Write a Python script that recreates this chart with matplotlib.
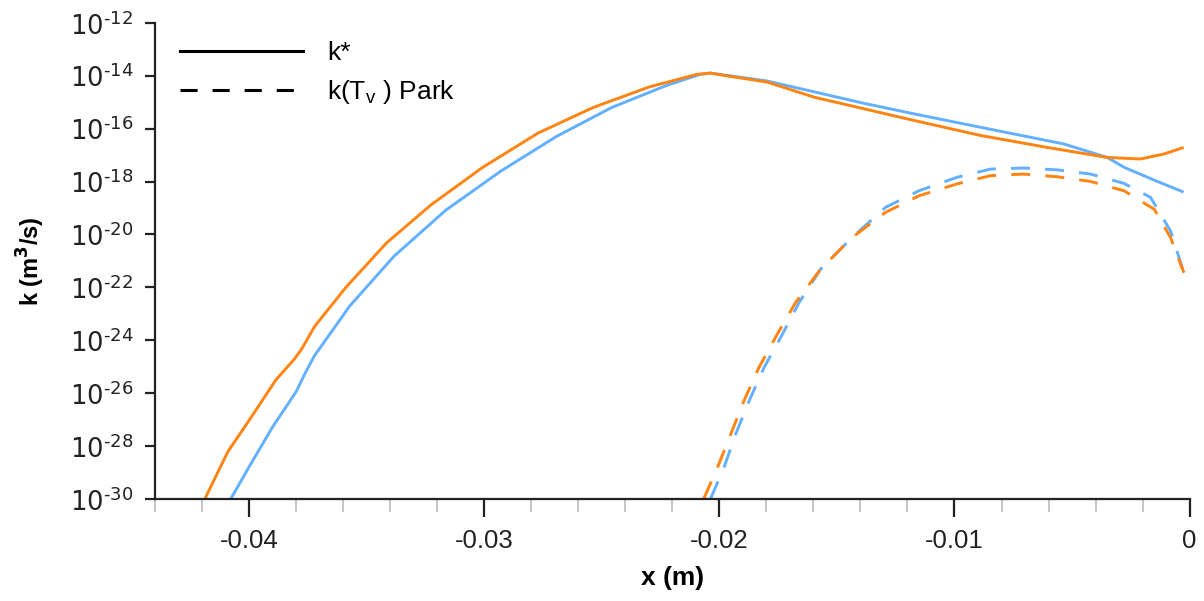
import matplotlib
matplotlib.use('Agg')
import matplotlib.pyplot as plt
from matplotlib.lines import Line2D

plt.rcParams['font.family'] = ['Liberation Sans', 'DejaVu Sans']

ORANGE = '#ff8412'
BLUE = '#62b0ff'

# k* (solid), orange case: x (m), log10 k
x_star_o = [-0.04189, -0.04091, -0.03997, -0.03887, -0.03809, -0.03777, -0.03723, -0.03589,
            -0.03416, -0.03228, -0.03008, -0.02772, -0.02537, -0.02301, -0.02097, -0.02038,
            -0.01972, -0.01797, -0.01598, -0.01414, -0.01173, -0.00889, -0.00606, -0.0035,
            -0.00209, -0.00109, -0.00031]
lk_star_o = [-30.0, -28.21, -26.98, -25.50, -24.72, -24.33, -23.49, -22.0,
             -20.32, -18.89, -17.47, -16.17, -15.20, -14.43, -13.95, -13.9,
             -14.0, -14.24, -14.81, -15.19, -15.69, -16.26, -16.71, -17.09,
             -17.15, -16.96, -16.73]

# k* (solid), blue case
x_star_b = [-0.04079, -0.03997, -0.03903, -0.03801, -0.03762, -0.03723, -0.03573, -0.03385,
            -0.03165, -0.02929, -0.02694, -0.02458, -0.02223, -0.02082, -0.02038, -0.01797,
            -0.01387, -0.01173, -0.00889, -0.00535, -0.0035, -0.00279, -0.0015, -0.00031]
lk_star_b = [-30.0, -28.73, -27.31, -25.95, -25.24, -24.59, -22.71, -20.83,
             -19.09, -17.60, -16.30, -15.20, -14.36, -13.95, -13.9, -14.2,
             -15.04, -15.44, -15.95, -16.58, -17.09, -17.46, -17.95, -18.38]

# k(Tv) Park (dashed), orange case
x_park_o = [-0.02067, -0.0201, -0.01953, -0.01897, -0.01833, -0.01755, -0.01677, -0.0157,
            -0.01436, -0.01294, -0.01151, -0.00989, -0.00847, -0.00705, -0.00563, -0.00421,
            -0.00279, -0.0015, -0.00081, -0.00024]
lk_park_o = [-30.0, -28.85, -27.58, -26.32, -25.05, -23.79, -22.59, -21.32,
             -20.12, -19.17, -18.54, -18.09, -17.78, -17.72, -17.82, -18.0,
             -18.35, -19.05, -20.12, -21.45]

# k(Tv) Park (dashed), blue case
x_park_b = [-0.02038, -0.01982, -0.01932, -0.01875, -0.01811, -0.01733, -0.01662, -0.0157,
            -0.01436, -0.01294, -0.01151, -0.00989, -0.00847, -0.00705, -0.00563, -0.00421,
            -0.00279, -0.00166, -0.00081, -0.00024]
lk_park_b = [-30.0, -28.85, -27.58, -26.32, -25.05, -23.79, -22.59, -21.32,
             -20.12, -18.98, -18.35, -17.84, -17.53, -17.49, -17.56, -17.72,
             -18.07, -18.6, -19.87, -21.45]

xticks = [-0.04, -0.03, -0.02, -0.01, 0]
xticklabels = ['-0.04', '-0.03', '-0.02', '-0.01', '0']
yexps = [-30, -28, -26, -24, -22, -20, -18, -16, -14, -12]


def tenpow(vals):
    return [10.0 ** v for v in vals]


fig = plt.figure(figsize=(12.04, 6.01), dpi=100)
ax = fig.add_axes([0.129, 0.170, 0.859, 0.792])

lw = 2.1
dash = (6.5, 5.2)
ax.plot(x_star_b, tenpow(lk_star_b), color=BLUE, lw=lw)
ax.plot(x_star_o, tenpow(lk_star_o), color=ORANGE, lw=lw)
ax.plot(x_park_b, tenpow(lk_park_b), color=BLUE, lw=lw, dashes=dash)
ax.plot(x_park_o, tenpow(lk_park_o), color=ORANGE, lw=lw, dashes=dash)

ax.set_yscale('log')
ax.set_xlim(-0.044, 0)
ax.set_ylim(1e-30, 1e-12)

ax.set_yticks(tenpow(yexps))
ax.set_yticklabels(['$10^{\\text{%d}}$' % e for e in yexps])
ax.yaxis.set_minor_locator(matplotlib.ticker.NullLocator())
ax.set_xticks(xticks)
ax.set_xticklabels(xticklabels)
ax.set_xticks([-0.044 + 0.002 * i for i in range(23)], minor=True)

for s in ['top', 'right']:
    ax.spines[s].set_visible(False)
for s in ['left', 'bottom']:
    ax.spines[s].set_linewidth(1.6)
    ax.spines[s].set_color('#222222')

ax.tick_params(axis='y', which='major', direction='out', length=7, width=1.6,
               labelsize=18.5, colors='#222222', pad=9)
ax.tick_params(axis='x', which='major', direction='out', length=13, width=1.6,
               labelsize=18.5, colors='#222222', pad=9)
ax.tick_params(axis='x', which='minor', direction='out', length=9, width=1.2, color='#bbbbbb')

ax.set_xlabel('x (m)', fontsize=19, fontweight='bold', labelpad=9)
ax.set_ylabel('k (m$^{\\mathbf{3}}$/s)', fontsize=17, fontweight='bold', labelpad=16)

handles = [Line2D([], [], color='black', lw=2.2),
           Line2D([], [], color='black', lw=2.2, dashes=(5.6, 4.9))]
ax.legend(handles, ['k*', 'k(T$_\\mathregular{v}$ ) Park'], loc='upper left',
          bbox_to_anchor=(0.024, 0.962), borderpad=0, borderaxespad=0, frameon=False,
          fontsize=19, handlelength=4.66, handletextpad=0.9, labelspacing=0.5)

fig.savefig('out.png', dpi=100)
